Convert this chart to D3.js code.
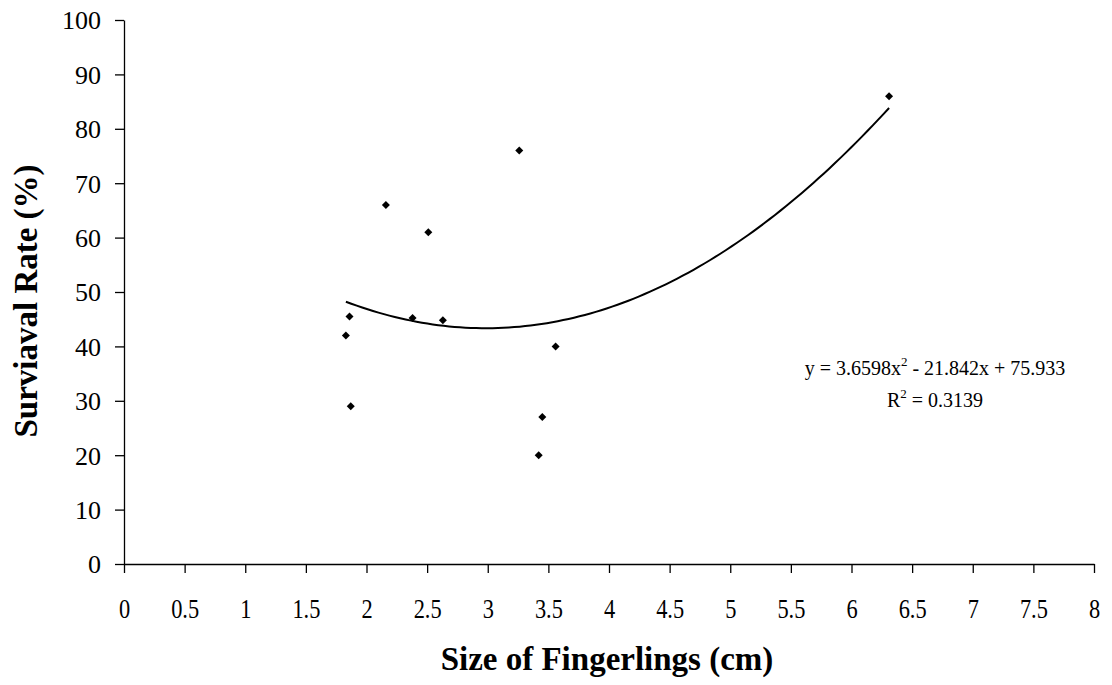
<!DOCTYPE html>
<meta charset="utf-8">
<style>
body { margin: 0; background: #fff; }
svg { font-family: "Liberation Serif", "Times New Roman", serif; }
.axis path, .axis line { stroke: #000; stroke-width: 1.3px; }
.axis text { fill: #000; }
</style>
<body>
<svg width="1112" height="685"></svg>
<script src="https://cdn.jsdelivr.net/npm/d3@7"></script>
<script>

// fingerling size (cm) and survival rate (%)
var sizes    = [1.83, 1.86, 1.87, 2.16, 2.38, 2.51, 2.63, 3.26, 3.42, 3.45, 3.56, 6.31];
var survival = [42, 45.5, 29, 66, 45.2, 61, 44.8, 76, 20, 27, 40, 86];

// trendline from the chart label: y = a x^2 + b x + c
var coefA = 3.6598, coefB = -21.842, coefC = 75.933;
var rSquared = "0.3139";

var xTicks = d3.range(0, 8.01, 0.5);
var yTicks = d3.range(0, 101, 10);

var svg = d3.select("svg");
var mLeft = 124, mRight = 1094, mTop = 20, mBottom = 564;

var x = d3.scaleLinear().domain([0, 8]).range([mLeft, mRight]);
var y = d3.scaleLinear().domain([0, 100]).range([mBottom, mTop]);

// axes
svg.append("g")
    .attr("class", "axis")
    .attr("transform", "translate(0," + mBottom + ")")
    .call(d3.axisBottom(x).tickValues(xTicks).tickSize(9).tickSizeOuter(0)
        .tickFormat(function(d) { return d3.format("")(d); }))
    .call(function(g) {
      g.attr("font-family", null).attr("font-size", null);
      g.selectAll("text").attr("y", 54).attr("dy", null)
        .style("font-size", "28px")
        .attr("transform", "scale(0.8,1)");
    });

svg.append("g")
    .attr("class", "axis")
    .attr("transform", "translate(" + mLeft + ",0)")
    .call(d3.axisLeft(y).tickValues(yTicks).tickSize(9).tickSizeOuter(0))
    .call(function(g) {
      g.attr("font-family", null).attr("font-size", null);
      g.selectAll("text").attr("x", -23).attr("dy", "0.34em").style("font-size", "26px");
    });

// axis titles
svg.append("text")
    .attr("x", 607)
    .attr("y", 670)
    .attr("text-anchor", "middle")
    .style("font-size", "33px")
    .style("font-weight", "bold")
    .text("Size of Fingerlings (cm)");

svg.append("text")
    .attr("transform", "translate(37,301) rotate(-90)")
    .attr("text-anchor", "middle")
    .style("font-size", "33px")
    .style("font-weight", "bold")
    .text("Surviaval Rate (%)");

// trendline
var xMin = d3.min(sizes), xMax = d3.max(sizes);
var curvePts = d3.range(0, 101).map(function(i) {
  var xv = xMin + (xMax - xMin) * i / 100;
  return [xv, coefA * xv * xv + coefB * xv + coefC];
});

svg.append("path")
    .datum(curvePts)
    .attr("fill", "none")
    .attr("stroke", "#000")
    .attr("stroke-width", 2)
    .attr("d", d3.line()
        .x(function(d) { return x(d[0]); })
        .y(function(d) { return y(d[1]); }));

// points
var diamond = d3.symbol().type(d3.symbolSquare).size(32);
svg.selectAll(".pt")
    .data(sizes)
    .enter().append("path")
    .attr("class", "pt")
    .attr("d", diamond)
    .attr("fill", "#000")
    .attr("transform", function(d, i) {
      return "translate(" + x(d) + "," + y(survival[i]) + ") rotate(45)";
    });

// equation label
var eq = svg.append("text")
    .attr("x", 935)
    .attr("y", 375)
    .attr("text-anchor", "middle")
    .style("font-size", "20px");
eq.append("tspan").text("y = " + coefA + "x");
eq.append("tspan").attr("dy", -9).style("font-size", "13px").text("2");
eq.append("tspan").attr("dy", 9).text(" - " + (-coefB) + "x + " + coefC);

var r2 = svg.append("text")
    .attr("x", 935)
    .attr("y", 407)
    .attr("text-anchor", "middle")
    .style("font-size", "20px");
r2.append("tspan").text("R");
r2.append("tspan").attr("dy", -9).style("font-size", "13px").text("2");
r2.append("tspan").attr("dy", 9).text(" = " + rSquared);

</script>
</body>
